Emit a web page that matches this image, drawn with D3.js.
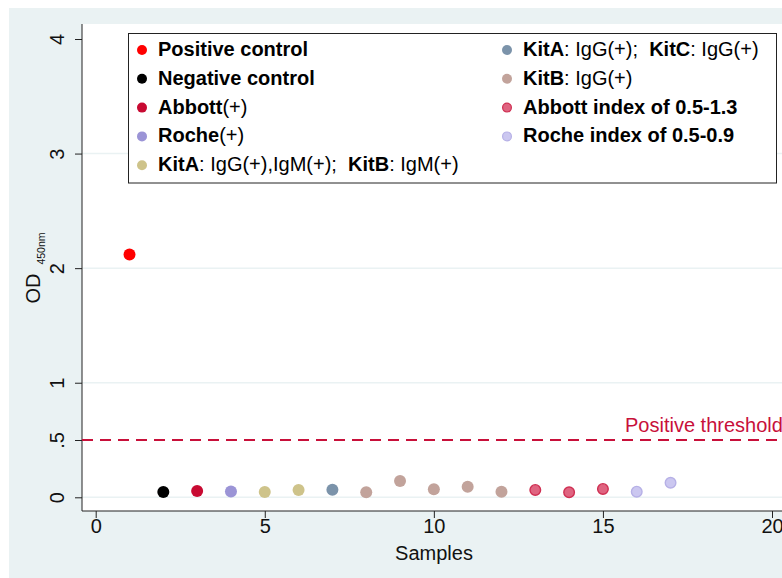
<!DOCTYPE html>
<html><head><meta charset="utf-8">
<script src="https://cdn.jsdelivr.net/npm/d3@7"></script>
<style>body{margin:0;background:#fff}svg{display:block;font-family:"Liberation Sans",Arial,sans-serif}</style>
</head><body><svg id="c" width="782" height="578"></svg>
<script>
const samples = [1,2,3,4,5,6,7,8,9,10,11,12,13,14,15,16,17];
const odValues = [2.12,0.046,0.055,0.05,0.046,0.064,0.066,0.044,0.142,0.07,0.093,0.049,0.064,0.044,0.073,0.049,0.127];
const groupOf = ["pos","neg","abb","roc","kitab","kitab","kitac","kitb","kitb","kitb","kitb","kitb","abbi","abbi","abbi","roci","roci"];
const groupKeys = ["pos","neg","abb","roc","kitab","kitac","kitb","abbi","roci"];
const groupFill = ["#ff0000","#000000","#c80a32","#9b94d6","#cec38a","#7b93aa","#c2a39b","#df6480","#cbc7f0"];
const groupStroke = ["none","none","none","none","none","none","none","#cf2f52","#b6b0e6"];
const legendLabels = [
  [["Positive control",true]],
  [["Negative control",true]],
  [["Abbott",true],["(+)",false]],
  [["Roche",true],["(+)",false]],
  [["KitA",true],[": IgG(+),IgM(+);  ",false],["KitB",true],[": IgM(+)",false]],
  [["KitA",true],[": IgG(+);  ",false],["KitC",true],[": IgG(+)",false]],
  [["KitB",true],[": IgG(+)",false]],
  [["Abbott index of 0.5-1.3",true]],
  [["Roche index of 0.5-0.9",true]]
];
const xTicks = [0,5,10,15,20];
const yTicks = [0,0.5,1,2,3,4];
const yTickLabels = ["0",".5","1","2","3","4"];
const threshold = 0.5;

const FS = 20;
const svg = d3.select("#c");
svg.append("rect").attr("x",9).attr("y",8).attr("width",782).attr("height",578).attr("fill","#eaf2f3");
const L=82, T=24, R=800, B=511;
svg.append("rect").attr("x",L).attr("y",T).attr("width",R-L).attr("height",B-T).attr("fill","#fff");

const x = d3.scaleLinear().domain([0,20]).range([95.7,772]);
const y = d3.scaleLinear().domain([0,4]).range([497.3,39]);

// grid
svg.append("g").selectAll("line").data([0,1,2,3]).join("line")
  .attr("x1",L).attr("x2",R).attr("y1",d=>y(d)).attr("y2",d=>y(d))
  .attr("stroke","#eaf2f3").attr("stroke-width",1.5);

// y axis
const ya = svg.append("g").attr("transform",`translate(${L},0)`)
  .call(d3.axisLeft(y).tickValues(yTicks).tickFormat((d,i)=>yTickLabels[i]).tickSize(7).tickSizeOuter(0));
ya.select(".domain").attr("stroke","#222").attr("d",`M0,${T}V${B}`);
ya.selectAll(".tick line").attr("stroke","#222");
ya.selectAll(".tick text").attr("font-size",FS).attr("fill","#111").attr("font-family","Liberation Sans, Arial, sans-serif")
  .attr("x",null).attr("text-anchor","middle")
  .attr("transform","translate(-25,0) rotate(-90)").attr("y",0).attr("dy","0.35em");

// x axis
const xa = svg.append("g").attr("transform",`translate(0,${B})`)
  .call(d3.axisBottom(x).tickValues(xTicks).tickSize(7).tickSizeOuter(0));
xa.select(".domain").attr("stroke","#222").attr("d",`M${L},0H${R}`);
xa.selectAll(".tick line").attr("stroke","#222");
xa.selectAll(".tick text").attr("font-size",FS).attr("fill","#111").attr("font-family","Liberation Sans, Arial, sans-serif").attr("y",8);

// titles
svg.append("text").attr("x",434).attr("y",560).attr("text-anchor","middle").attr("font-size",FS).attr("fill","#111").text("Samples");
const yt = svg.append("text").attr("transform","translate(40,268) rotate(-90)").attr("text-anchor","middle").attr("font-size",FS).attr("fill","#111");
yt.append("tspan").text("OD");
yt.append("tspan").attr("font-size",10.5).attr("dx",9).attr("dy",5).text("450nm");

// threshold
svg.append("line").attr("x1",L).attr("x2",R).attr("y1",y(threshold)).attr("y2",y(threshold))
  .attr("stroke","#c8103a").attr("stroke-width",1.8).attr("stroke-dasharray","11,7");
svg.append("text").attr("x",625).attr("y",y(threshold)-8).attr("font-size",FS).attr("fill","#c8103a").text("Positive threshold");

// points
const pts = samples.map((s,i)=>({s,v:odValues[i],g:groupKeys.indexOf(groupOf[i])}));
svg.append("g").selectAll("circle").data(pts).join("circle")
  .attr("cx",d=>x(d.s)).attr("cy",d=>y(d.v)).attr("r",d=>groupStroke[d.g]==="none"?6:5.3)
  .attr("fill",d=>groupFill[d.g]).attr("stroke",d=>groupStroke[d.g]).attr("stroke-width",1.4);

// legend
svg.append("rect").attr("x",128.5).attr("y",33.5).attr("width",648).attr("height",149.5).attr("fill","#fff").attr("stroke","#222").attr("stroke-width",1);
const lg = svg.append("g");
legendLabels.forEach((parts,i)=>{
  const col = i<5?0:1, row = i<5?i:i-5;
  const mx = col===0?142:507, ty = 49+row*28.8;
  lg.append("circle").attr("cx",mx).attr("cy",ty+1).attr("r",groupStroke[i]==="none"?5:4.4).attr("fill",groupFill[i]).attr("stroke",groupStroke[i]).attr("stroke-width",1.2);
  const t = lg.append("text").attr("x",mx+16).attr("y",ty).attr("dy","0.35em").attr("font-size",FS).attr("fill","#000").attr("xml:space","preserve").style("white-space","pre");
  parts.forEach(p=>t.append("tspan").attr("font-weight",p[1]?"bold":"normal").text(p[0]));
});
</script></body></html>
